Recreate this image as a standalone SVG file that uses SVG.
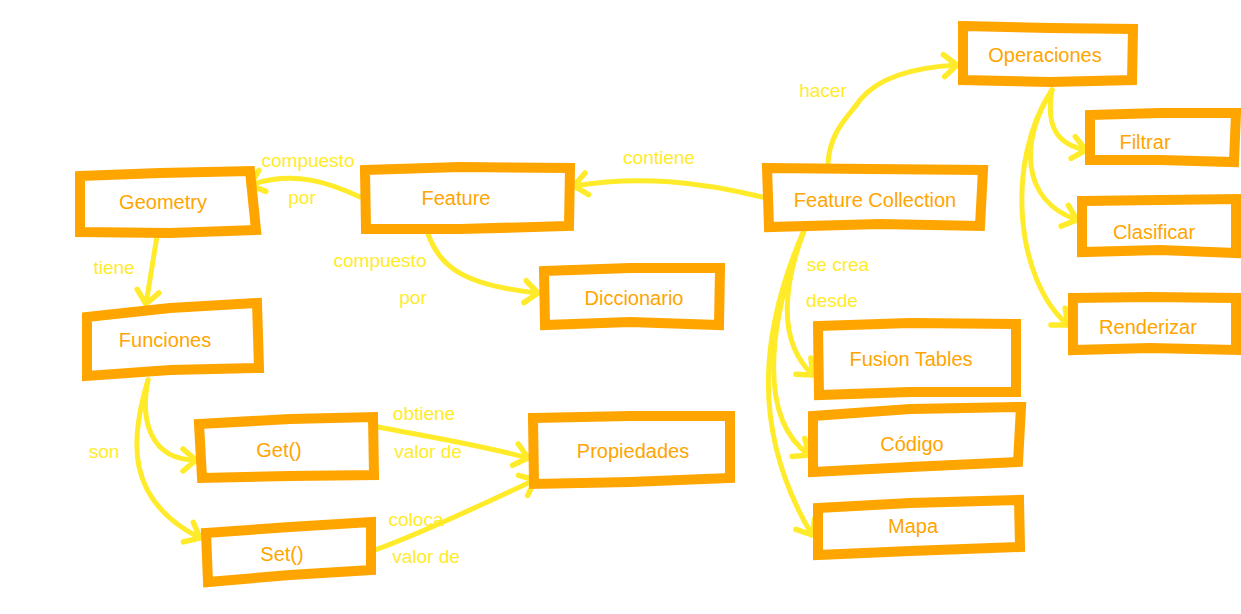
<svg xmlns="http://www.w3.org/2000/svg" width="1241" height="614" viewBox="0 0 1241 614">
<defs>
<marker id="arr" markerUnits="userSpaceOnUse" markerWidth="34" markerHeight="34" refX="18" refY="14" orient="auto" viewBox="0 0 34 28">
<path d="M5,3 L18,14 L5,25" fill="none" stroke="#FFEB2A" stroke-width="5.5" stroke-linecap="round" stroke-linejoin="round"/>
</marker>
<style>
.box{fill:#fff;stroke:#FFA500;stroke-width:10;stroke-linejoin:miter}
.nt{font-family:"Liberation Sans",Arial,sans-serif;font-size:20px;fill:#FFA500;text-anchor:middle;dominant-baseline:central}
.lb{font-family:"Liberation Sans",Arial,sans-serif;font-size:19px;fill:#FFEB2A;text-anchor:middle;dominant-baseline:central}
.edge{fill:none;stroke:#FFEB2A;stroke-width:5;stroke-linecap:round;marker-end:url(#arr)}
</style>
</defs>
<rect width="1241" height="614" fill="#fff"/>
<g id="connectors">
<path class="edge" d="M360,197 C330,183 295,170 250,185"/>
<path class="edge" d="M428,234 C440,265 460,285 538,293"/>
<path class="edge" d="M762,197 C700,182 640,175 574,186"/>
<path class="edge" d="M828,163 C830,130 850,115 860,100 C880,75 920,67 957,65"/>
<path class="edge" d="M157,236 L146,304"/>
<path class="edge" d="M148,380 C140,420 150,460 196,460"/>
<path class="edge" d="M148,380 C130,440 125,500 200,538"/>
<path class="edge" d="M378,427 C430,437 480,445 528,458"/>
<path class="edge" d="M375,550 C430,530 480,505 535,480"/>
<path class="edge" d="M805,228 C785,280 775,340 813,375"/>
<path class="edge" d="M805,228 C765,330 760,420 809,455"/>
<path class="edge" d="M805,228 C760,330 750,430 812,535"/>
<path class="edge" d="M1052,90 C1045,130 1060,145 1086,150"/>
<path class="edge" d="M1052,90 C1020,140 1020,200 1077,220"/>
<path class="edge" d="M1052,90 C1005,160 1015,280 1068,325"/>
<text class="lb" x="308" y="160">compuesto</text>
<text class="lb" x="302" y="197">por</text>
<text class="lb" x="380" y="260">compuesto</text>
<text class="lb" x="413" y="297">por</text>
<text class="lb" x="659" y="157">contiene</text>
<text class="lb" x="823" y="90">hacer</text>
<text class="lb" x="114" y="267">tiene</text>
<text class="lb" x="104" y="451">son</text>
<text class="lb" x="424" y="413">obtiene</text>
<text class="lb" x="428" y="451">valor de</text>
<text class="lb" x="416" y="519">coloca</text>
<text class="lb" x="426" y="556">valor de</text>
<text class="lb" x="838" y="264">se crea</text>
<text class="lb" x="832" y="300">desde</text>
</g>
<g id="n-geometry"><path class="box" d="M80,176 L160,173 L250,171 L256,230 L170,233 L80,232 Z"/><text class="nt" x="163" y="202">Geometry</text></g>
<g id="n-feature"><path class="box" d="M365,170 L460,167 L570,168 L569,226 L460,229 L366,229 Z"/><text class="nt" x="456" y="198">Feature</text></g>
<g id="n-fc"><path class="box" d="M767,168 L870,169 L983,170 L980,226 L880,224 L769,227 Z"/><text class="nt" x="875" y="200">Feature Collection</text></g>
<g id="n-op"><path class="box" d="M963,26 L1050,28 L1133,29 L1132,80 L1050,82 L963,80 Z"/><text class="nt" x="1045" y="55">Operaciones</text></g>
<g id="n-filtrar"><path class="box" d="M1090,115 L1160,113 L1236,113 L1234,162 L1160,160 L1090,160 Z"/><text class="nt" x="1145" y="142">Filtrar</text></g>
<g id="n-clasificar"><path class="box" d="M1082,201 L1160,200 L1236,199 L1236,253 L1160,250 L1082,252 Z"/><text class="nt" x="1154" y="232">Clasificar</text></g>
<g id="n-renderizar"><path class="box" d="M1073,298 L1150,297 L1236,298 L1236,350 L1150,348 L1073,350 Z"/><text class="nt" x="1148" y="327">Renderizar</text></g>
<g id="n-dicc"><path class="box" d="M544,271 L630,268 L720,268 L719,325 L630,322 L545,325 Z"/><text class="nt" x="634" y="298">Diccionario</text></g>
<g id="n-funciones"><path class="box" d="M87,317 L170,308 L257,303 L259,368 L170,370 L87,376 Z"/><text class="nt" x="165" y="340">Funciones</text></g>
<g id="n-get"><path class="box" d="M199,424 L290,419 L373,417 L374,475 L290,476 L202,478 Z"/><text class="nt" x="279" y="450">Get()</text></g>
<g id="n-set"><path class="box" d="M206,533 L290,527 L371,522 L371,570 L290,575 L208,582 Z"/><text class="nt" x="282" y="554">Set()</text></g>
<g id="n-prop"><path class="box" d="M533,418 L630,416 L730,416 L730,478 L630,482 L534,484 Z"/><text class="nt" x="633" y="451">Propiedades</text></g>
<g id="n-fusion"><path class="box" d="M818,326 L910,323 L1016,324 L1016,392 L910,392 L819,395 Z"/><text class="nt" x="911" y="359">Fusion Tables</text></g>
<g id="n-codigo"><path class="box" d="M813,416 L910,409 L1021,407 L1018,462 L910,467 L813,472 Z"/><text class="nt" x="912" y="444">Código</text></g>
<g id="n-mapa"><path class="box" d="M818,508 L910,503 L1019,500 L1020,547 L910,551 L818,555 Z"/><text class="nt" x="913" y="526">Mapa</text></g>
</svg>
